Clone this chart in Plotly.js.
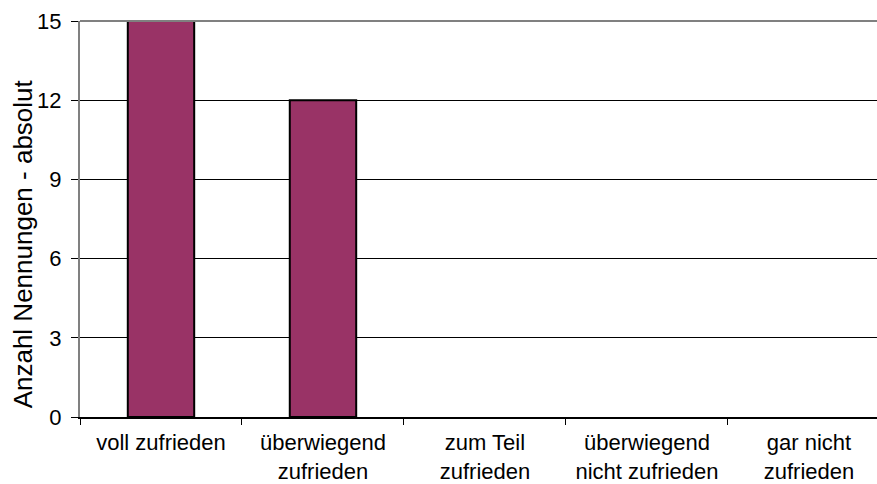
<!DOCTYPE html>
<html>
<head>
<meta charset="utf-8">
<script src="https://cdn.plot.ly/plotly-3.0.1.min.js"></script>
<style>html,body{margin:0;padding:0;background:#fff;}#chart{width:877px;height:484px;}</style>
</head>
<body>
<div id="chart"></div>
<script>
const categories = ["voll zufrieden", "überwiegend zufrieden", "zum Teil zufrieden", "überwiegend nicht zufrieden", "gar nicht zufrieden"];
const tickLabels = ["voll zufrieden", "überwiegend<br>zufrieden", "zum Teil<br>zufrieden", "überwiegend<br>nicht zufrieden", "gar nicht<br>zufrieden"];
const values = [15, 12, 0, 0, 0];
const yTicks = [0, 3, 6, 9, 12, 15];
const yTitle = "Anzahl Nennungen - absolut";

const font = "Liberation Sans, Arial, sans-serif";

const trace = {
  type: "bar",
  x: categories,
  y: values,
  width: 0.41,
  marker: {color: "#993366", line: {color: "#000000", width: values.map(v => v > 0 ? 2 : 0)}},
  hoverinfo: "x+y"
};

const layout = {
  width: 877, height: 484,
  margin: {l: 80, r: 0, t: 21, b: 67, pad: 0},
  paper_bgcolor: "#ffffff", plot_bgcolor: "#ffffff",
  showlegend: false,
  font: {family: font, size: 22, color: "#000000"},
  xaxis: {
    type: "category",
    categoryarray: categories,
    tickvals: categories,
    ticktext: tickLabels,
    range: [-0.5, 4.42],
    tickson: "boundaries",
    ticks: "outside", ticklen: 6, tickcolor: "#000000", tickwidth: 1,
    ticklabelstandoff: 5,
    showline: true, linecolor: "#000000", linewidth: 2,
    showgrid: false, zeroline: false,
    tickfont: {family: font, size: 22, color: "#000000"},
    fixedrange: true
  },
  yaxis: {
    range: [0, 15],
    tickvals: yTicks,
    ticks: "outside", ticklen: 7, tickcolor: "#000000", tickwidth: 1,
    ticklabelstandoff: 5,
    showline: true, linecolor: "#808080", linewidth: 2,
    showgrid: true, gridcolor: "#000000", gridwidth: 1,
    zeroline: false,
    tickfont: {family: font, size: 22, color: "#000000"},
    fixedrange: true
  },
  annotations: [
    {text: yTitle, xref: "paper", yref: "paper", x: -0.0715, y: 0.436, xanchor: "center", yanchor: "middle",
     textangle: -90, showarrow: false, font: {family: font, size: 26, color: "#000000"}}
  ],
  shapes: [
    {type: "line", xref: "paper", yref: "paper", x0: 0, x1: 1, y0: 1, y1: 1, line: {color: "#808080", width: 2}, layer: "above"}
  ]
};

Plotly.newPlot("chart", [trace], layout, {displayModeBar: false, staticPlot: true});
</script>
</body>
</html>
